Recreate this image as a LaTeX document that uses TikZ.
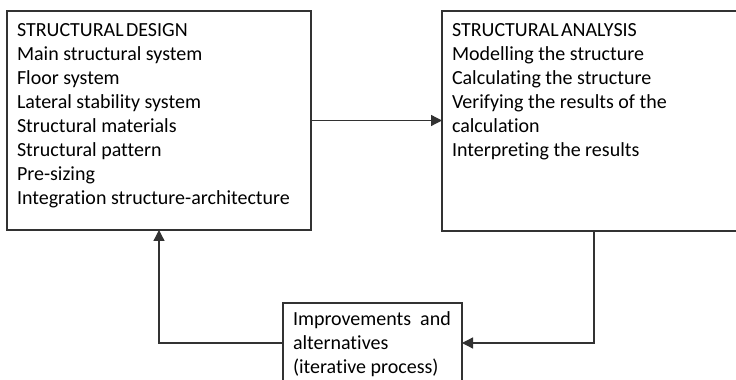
\documentclass[tikz,border=0pt]{standalone}
\usepackage{fontspec}
\setmainfont[Ligatures=NoCommon]{Carlito}
\usetikzlibrary{arrows.meta}
\begin{document}
\begin{tikzpicture}[x=1pt,y=1pt,
  box/.style={draw=drawColor,line width=1.3pt,inner sep=0pt,outer sep=0pt},
  txt/.style={text=black,anchor=base west,inner sep=0pt,outer sep=0pt,font=\fontsize{20}{24}\selectfont},
  flow/.style={draw=drawColor,line width=1.3pt,-{Triangle[length=11pt,width=11pt]}}]
\definecolor{drawColor}{RGB}{50,50,50}
\definecolor{fillColor}{RGB}{255,255,255}
\path[use as bounding box,fill=fillColor] (0,0) rectangle (736,380);
\begin{scope}
\path[clip] (0,0) rectangle (736,380);

\node[box,minimum width=304,minimum height=219] (design) at (159,259.5) {};

\node[box,minimum width=304,minimum height=220] (analysis) at (594,259) {};

\node[box,minimum width=179,minimum height=80] (improve) at (372.5,37) {};

\node[txt] (dsgTitle) at (17,343) {STRUCTURAL\hspace{0.12em}DESIGN};
\node[txt] (dsgMain) at (17,319) {Main structural system};
\node[txt] (dsgFloor) at (17,295) {Floor system};
\node[txt] (dsgLateral) at (17,271) {Lateral stability system};
\node[txt] (dsgMaterials) at (17,247) {Structural materials};
\node[txt] (dsgPattern) at (17,223) {Structural pattern};
\node[txt] (dsgSizing) at (17,199) {Pre-sizing};
\node[txt] (dsgIntegration) at (17,175) {Integration structure-architecture};

\node[txt] (anaTitle) at (452,343) {STRUCTURAL\hspace{0.12em}ANALYSIS};
\node[txt] (anaModel) at (452,319) {Modelling the structure};
\node[txt] (anaCalc) at (452,295) {Calculating the structure};
\node[txt] (anaVerify) at (452,271) {Verifying the results of the};
\node[txt] (anaVerify2) at (452,247) {calculation};
\node[txt] (anaInterpret) at (452,223) {Interpreting the results};

\node[txt] (impFirst) at (293,54) {Improvements\ \ and};
\node[txt] (impSecond) at (293,30) {alternatives};
\node[txt] (impThird) at (293,6) {(iterative process)};

\path[flow] (design.east) -- (design.east -| analysis.west);

\path[flow] (analysis.south) |- (improve.east);

\path[flow] (improve.west) -| (design.south);
\end{scope}
\end{tikzpicture}
\end{document}
